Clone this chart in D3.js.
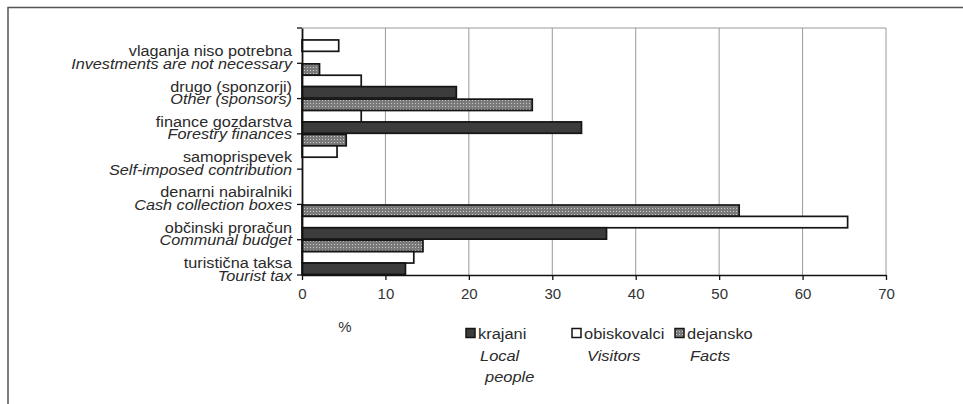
<!DOCTYPE html>
<html>
<head>
<meta charset="utf-8">
<script src="https://cdn.jsdelivr.net/npm/d3@7"></script>
<style>
  html, body { margin: 0; padding: 0; background: #fff; }
  svg { display: block; font-family: "Liberation Sans", Arial, sans-serif; }
</style>
</head>
<body>
<svg id="chart" width="963" height="404"></svg>
<script>
// ---- data (top to bottom) ----
const categoriesSl = ["vlaganja niso potrebna", "drugo (sponzorji)", "finance gozdarstva", "samoprispevek", "denarni nabiralniki", "občinski proračun", "turistična taksa"];
const categoriesEn = ["Investments are not necessary", "Other (sponsors)", "Forestry finances", "Self-imposed contribution", "Cash collection boxes", "Communal budget", "Tourist tax"];
const krajani     = [0, 18.5, 33.5, 0, 0, 36.5, 12.4];
const obiskovalci = [4.4, 7.1, 7.1, 4.2, 0, 65.4, 13.4];
const dejansko    = [0, 2.1, 27.6, 5.3, 0, 52.4, 14.5];
const xTicks = [0, 10, 20, 30, 40, 50, 60, 70];
const seriesKeys = ["dejansko", "obiskovalci", "krajani"];
const legendSl = ["krajani", "obiskovalci", "dejansko"];
const legendEn = [["Local", "people"], ["Visitors"], ["Facts"]];
const axisTitle = "%";

const seriesData = { krajani, obiskovalci, dejansko };
const fills = { krajani: "#3c3c3c", obiskovalci: "#ffffff", dejansko: "url(#dots)" };

const svg = d3.select("#chart");
const defs = svg.append("defs");
const pat = defs.append("pattern").attr("id", "dots").attr("patternUnits", "userSpaceOnUse")
  .attr("width", 3).attr("height", 3);
pat.append("rect").attr("width", 3).attr("height", 3).attr("fill", "#7a7a7a");
pat.append("rect").attr("x", 1).attr("y", 1).attr("width", 1).attr("height", 1).attr("fill", "#c8c8c8");

// outer frame
svg.append("path").attr("d", "M8,404 V7.5 H963").attr("fill", "none").attr("stroke", "#555").attr("stroke-width", 1.5);

const x = d3.scaleLinear().domain([0, 70]).range([302, 886]);
const y = d3.scaleBand().domain(categoriesSl).range([28, 275]);
const yi = d3.scaleBand().domain(seriesKeys).range([0, y.bandwidth()]).paddingOuter(0.05);

// gridlines
svg.append("g").selectAll("line").data(xTicks.slice(1)).join("line")
  .attr("x1", d => x(d)).attr("x2", d => x(d)).attr("y1", y.range()[0]).attr("y2", y.range()[1])
  .attr("stroke", "#9a9a9a").attr("stroke-width", 1);
svg.append("line").attr("x1", x(0)).attr("x2", x(70)).attr("y1", y.range()[0]).attr("y2", y.range()[0])
  .attr("stroke", "#9a9a9a").attr("stroke-width", 1);

// bars
const barData = [];
categoriesSl.forEach((c, i) => seriesKeys.forEach(k => {
  const v = seriesData[k][i];
  if (v > 0) barData.push({ c, k, v });
}));
svg.append("g").selectAll("rect").data(barData).join("rect")
  .attr("x", x(0))
  .attr("y", d => y(d.c) + yi(d.k))
  .attr("width", d => x(d.v) - x(0))
  .attr("height", yi.bandwidth())
  .attr("fill", d => fills[d.k])
  .attr("stroke", "#151515").attr("stroke-width", 1.7);

// x axis
const xAxis = svg.append("g").attr("transform", `translate(0,${y.range()[1]})`)
  .call(d3.axisBottom(x).tickValues(xTicks).tickSize(5).tickPadding(8).tickSizeOuter(0));
xAxis.select(".domain").attr("stroke", "#111").attr("stroke-width", 1.6);
xAxis.selectAll(".tick line").attr("stroke", "#111").attr("stroke-width", 1.3);
xAxis.selectAll(".tick text").attr("font-size", 15).attr("fill", "#333")
  .attr("font-family", "Liberation Sans, Arial, sans-serif");

// y axis
const yAxis = svg.append("g").attr("transform", `translate(${x(0)},0)`)
  .call(d3.axisLeft(y).tickValues([]).tickSizeOuter(0));
yAxis.select(".domain").attr("stroke", "#111").attr("stroke-width", 1.8);
const boundaries = [y.range()[0]].concat(categoriesSl.map(c => y(c) + y.bandwidth()));
yAxis.selectAll("line.bt").data(boundaries).join("line").attr("class", "bt")
  .attr("x1", -5).attr("x2", 0).attr("y1", d => d).attr("y2", d => d)
  .attr("stroke", "#111").attr("stroke-width", 1.3);

// helper: horizontally stretched text (scan is slightly wide)
function stext(g, tx, ty, t, anchor, italic, s) {
  return g.append("text").attr("transform", `translate(${tx},${ty}) scale(${s},1)`)
    .attr("text-anchor", anchor || "start")
    .attr("font-style", italic ? "italic" : "normal").text(t);
}

// category labels
const lab = svg.append("g").attr("fill", "#2a2a2a").attr("font-size", 14.5);
categoriesSl.forEach((c, i) => {
  const b = y(c) + y.bandwidth();
  stext(lab, 292, b - 7, c, "end", false, 1.12);
  stext(lab, 292, b + 5.5, categoriesEn[i], "end", true, 1.12);
});

// axis title
svg.append("text").attr("x", 345).attr("y", 332).attr("text-anchor", "middle")
  .attr("font-size", 15).attr("fill", "#333").text(axisTitle);

// legend
const legX = [466, 572, 675];
const legEnX = [[480, 485], [587], [690]];
const legFill = [fills.krajani, fills.obiskovalci, fills.dejansko];
const leg = svg.append("g").attr("font-size", 15.5).attr("fill", "#2a2a2a");
legendSl.forEach((t, i) => {
  leg.append("rect").attr("x", legX[i]).attr("y", 328.5).attr("width", 9).attr("height", 9)
    .attr("fill", legFill[i]).attr("stroke", "#151515").attr("stroke-width", 1.5);
  stext(leg, legX[i] + 12, 338.5, t, "start", false, 1.06);
  legendEn[i].forEach((e, j) => {
    stext(leg, legEnX[i][j], 360.5 + j * 21.5, e, "start", true, 1.06);
  });
});
</script>
</body>
</html>
